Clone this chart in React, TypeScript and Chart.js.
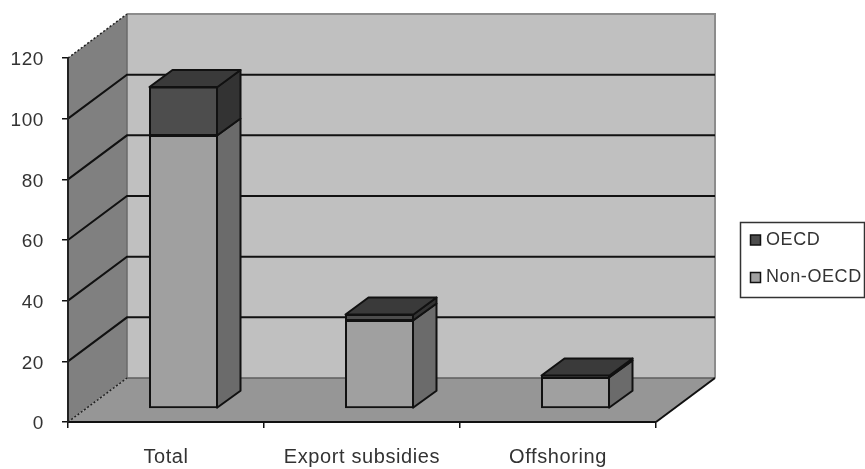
import React, { useEffect, useRef } from "react";
import { Chart, registerables } from "chart.js";

Chart.register(...registerables);

const categories = ["Total", "Export subsidies", "Offshoring"];
const nonOecd = [90, 29, 10.2];
const oecd = [16, 2, 0.7];
const yTicks = { min: 0, max: 120, stepSize: 20 };

const FONT = "'Liberation Sans', Arial, sans-serif";
const TEXT = "#333333";

// Depth of the box the chart sits in, and of each column within it.
const WALL_DEPTH = { x: 59, y: 44 };
const BAR_SHIFT = { x: 17.5, y: 13.5 };
const BAR_DEPTH = { x: 23, y: 17 };

const faces = {
  back: "#c0c0c0",
  left: "#808080",
  floor: "#969696",
};
const nonOecdFaces = { front: "#a0a0a0", side: "#6b6b6b" };
const oecdFaces = { front: "#4d4d4d", side: "#333333", top: "#3a3a3a" };

function poly(ctx: CanvasRenderingContext2D, pts: number[][], fill?: string, stroke?: string, lw = 2) {
  ctx.beginPath();
  pts.forEach(([x, y], i) => (i ? ctx.lineTo(x, y) : ctx.moveTo(x, y)));
  if (fill) {
    ctx.closePath();
    ctx.fillStyle = fill;
    ctx.fill();
  }
  if (stroke) {
    ctx.strokeStyle = stroke;
    ctx.lineWidth = lw;
    ctx.stroke();
  }
}

const roomPlugin = {
  id: "room",
  beforeDraw(chart: any) {
    const { ctx, chartArea: a, scales } = chart;
    (ctx as any).letterSpacing = "0.6px";
    const d = WALL_DEPTH;
    ctx.save();
    const bl = [a.left + d.x, a.bottom - d.y];
    const br = [a.right + d.x, a.bottom - d.y];
    const tl = [a.left + d.x, a.top - d.y];
    const tr = [a.right + d.x, a.top - d.y];
    poly(ctx, [tl, tr, br, bl], faces.back);
    poly(ctx, [[a.left, a.top], tl, bl, [a.left, a.bottom]], faces.left);
    poly(ctx, [[a.left, a.bottom], bl, br, [a.right, a.bottom]], faces.floor);

    poly(ctx, [tl, tr, br], undefined, "#8c8c8c", 2);
    poly(ctx, [bl, br], undefined, "#5e5e5e", 1.5);
    poly(ctx, [bl, tl], undefined, "#6a6a6a", 1.5);
    poly(ctx, [[a.right, a.bottom], br], undefined, "#111111", 2);

    // Gridlines fold from the left wall onto the back wall.
    scales.y.ticks.forEach((t: any) => {
      const y = scales.y.getPixelForValue(t.value);
      if (t.value === yTicks.min || t.value === yTicks.max) {
        ctx.save();
        ctx.setLineDash([2, 2]);
        poly(ctx, [[a.left, y], [a.left + d.x, y - d.y]], undefined, "#222222", 1.5);
        ctx.restore();
      } else {
        poly(ctx, [[a.left, y], [a.left + d.x, y - d.y], [a.right + d.x, y - d.y]], undefined, "#111111", 2);
      }
    });
    ctx.restore();
  },
  beforeDatasetsDraw(chart: any) {
    chart.ctx.save();
    chart.ctx.translate(BAR_SHIFT.x, -BAR_SHIFT.y);
  },
  afterDatasetsDraw(chart: any) {
    const { ctx } = chart;
    ctx.restore();
    const dx = BAR_DEPTH.x;
    const dy = BAR_DEPTH.y;
    ctx.save();
    ctx.lineJoin = "round";
    const palette = [nonOecdFaces, oecdFaces];
    const last = chart.data.datasets.length - 1;
    chart.data.datasets.forEach((_: any, di: number) => {
      chart.getDatasetMeta(di).data.forEach((bar: any) => {
        const { x, y, base, width } = bar.getProps(["x", "y", "base", "width"], true);
        const l = x - width / 2 + BAR_SHIFT.x;
        const r = x + width / 2 + BAR_SHIFT.x;
        const t = y - BAR_SHIFT.y;
        const b = base - BAR_SHIFT.y;
        poly(ctx, [[r - 0.5, t], [r + dx, t - dy], [r + dx, b - dy], [r - 0.5, b]], palette[di].side, "#111111", 2);
        // Only the uppermost segment shows its top face.
        if (di === last) {
          poly(ctx, [[l, t], [l + dx, t - dy], [r + dx, t - dy], [r, t]], oecdFaces.top, "#111111", 2);
        }
      });
    });
    ctx.restore();
  },
  afterDraw(chart: any) {
    const { ctx } = chart;
    ctx.save();
    ctx.strokeStyle = "#333333";
    ctx.lineWidth = 1.5;
    ctx.strokeRect(740.5, 222.5, 124, 75);
    ctx.textBaseline = "middle";
    ctx.textAlign = "left";
    ctx.font = `18px ${FONT}`;
    (ctx as any).letterSpacing = "0.6px";
    [...chart.data.datasets].reverse().forEach((ds: any, i: number) => {
      const y = 240 + i * 37.5;
      ctx.fillStyle = ds.backgroundColor;
      ctx.fillRect(750.5, y - 5, 10, 10);
      ctx.strokeStyle = "#111111";
      ctx.lineWidth = 1.5;
      ctx.strokeRect(750.5, y - 5, 10, 10);
      ctx.fillStyle = TEXT;
      ctx.fillText(ds.label, 766, y);
    });
    ctx.restore();
  },
};

export default function App() {
  const ref = useRef<HTMLCanvasElement>(null);
  useEffect(() => {
    const chart = new Chart(ref.current!, {
      type: "bar",
      data: {
        labels: categories,
        datasets: [
          { label: "Non-OECD", data: nonOecd, backgroundColor: nonOecdFaces.front },
          { label: "OECD", data: oecd, backgroundColor: oecdFaces.front },
        ].map((ds) => ({
          ...ds,
          borderColor: "#111111",
          borderWidth: 2,
          borderSkipped: false,
          inflateAmount: 0.5,
          barPercentage: 0.347,
          categoryPercentage: 1,
          clip: false as any,
        })),
      },
      options: {
        responsive: false,
        animation: false,
        layout: { padding: { top: 58, right: 209, left: 0, bottom: 0 } },
        plugins: { legend: { display: false }, tooltip: { enabled: false } },
        scales: {
          x: {
            stacked: true,
            grid: { drawOnChartArea: false, drawTicks: true, tickLength: 6, color: "#111111", lineWidth: 1.5 },
            border: { color: "#111111", width: 2 },
            ticks: { color: TEXT, font: { family: FONT, size: 20 }, padding: 17, maxRotation: 0, autoSkip: false },
            afterFit: (s: any) => {
              s.height = 47;
            },
          },
          y: {
            stacked: true,
            ...yTicks,
            grid: { drawOnChartArea: false, drawTicks: true, tickLength: 6, color: "#111111", lineWidth: 1.5 },
            border: { color: "#222222", width: 2 },
            ticks: { color: TEXT, font: { family: FONT, size: 19 }, padding: 18, labelOffset: 2, stepSize: yTicks.stepSize },
            afterFit: (s: any) => {
              s.width = 68;
            },
          },
        },
      },
      plugins: [roomPlugin],
    } as any);
    return () => chart.destroy();
  }, []);
  return (
    <div style={{ position: "fixed", left: 0, top: 0, width: 865, height: 469, background: "#fff" }}>
      <canvas ref={ref} width={865} height={469} style={{ display: "block" }} />
    </div>
  );
}
